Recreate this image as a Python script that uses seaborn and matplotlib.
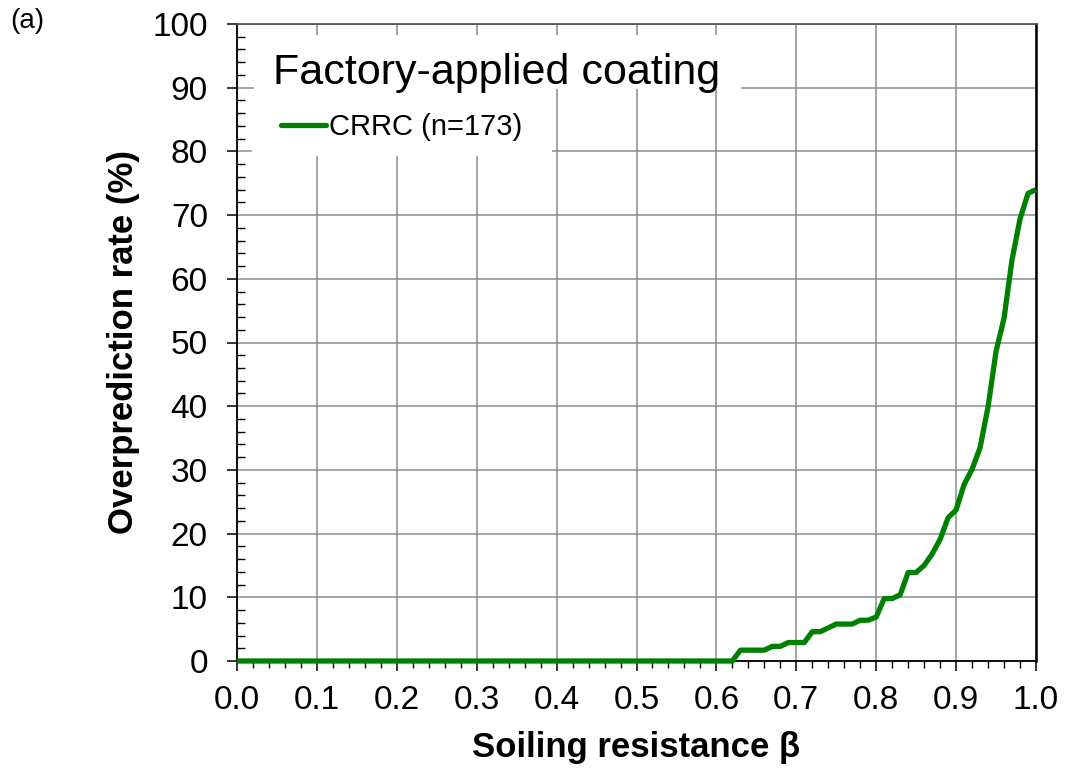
import numpy as np
import pandas as pd
import matplotlib
matplotlib.use("Agg")
import matplotlib.pyplot as plt
from matplotlib.patches import Rectangle
from matplotlib.ticker import MultipleLocator
import seaborn as sns

# Soiling-resistance thresholds and the share of CRRC specimens overpredicted (%)
beta = np.round(np.arange(0, 101) / 100, 2)
rate = [0.0] * 63 + [
    1.7, 1.7, 1.7, 1.7, 2.3, 2.3, 2.9, 2.9, 2.9, 4.6,
    4.6, 5.2, 5.8, 5.8, 5.8, 6.4, 6.4, 6.9, 9.8, 9.8,
    10.4, 13.9, 13.9, 15.0, 16.8, 19.1, 22.5, 23.7, 27.7, 30.1,
    33.5, 39.9, 48.6, 53.8, 63.0, 69.4, 73.4, 74.0,
]
series_label = "CRRC (n=173)"
panel_title = "Factory-applied coating"
x_ticks = [0.0, 0.1, 0.2, 0.3, 0.4, 0.5, 0.6, 0.7, 0.8, 0.9, 1.0]
y_ticks = [0, 10, 20, 30, 40, 50, 60, 70, 80, 90, 100]

df = pd.DataFrame({"beta": beta, "rate": rate, "series": series_label})

sns.set_theme(style="white")
plt.rcParams["font.family"] = ["Liberation Sans", "DejaVu Sans"]
plt.rcParams.update({
    "text.color": "black",
    "axes.labelcolor": "black",
    "xtick.color": "black",
    "ytick.color": "black",
})

fig = plt.figure(figsize=(10.66, 7.72), dpi=100)
ax = fig.add_axes([237 / 1066, 1 - 661 / 772, (1036 - 237) / 1066, (661 - 24) / 772])

sns.lineplot(data=df, x="beta", y="rate", hue="series", palette=["#008000"],
             linewidth=3.8, ax=ax, legend=False, clip_on=False, zorder=3,
             solid_joinstyle="round", solid_capstyle="butt")

ax.set_xlim(0, 1)
ax.set_ylim(0, 100)
ax.set_xticks(x_ticks)
ax.set_xticklabels([f"{v:.1f}" for v in x_ticks])
ax.set_yticks(y_ticks)
ax.xaxis.set_minor_locator(MultipleLocator(0.02))
ax.yaxis.set_minor_locator(MultipleLocator(2))

ax.grid(True, which="major", color="#8c8c8c", linewidth=1.1)
ax.set_axisbelow(True)

ax.tick_params(axis="both", which="major", labelsize=24, length=7, width=1.1,
               color="black", labelcolor="black", direction="out",
               bottom=True, left=True)
ax.tick_params(axis="x", which="major", pad=10)
ax.tick_params(axis="y", which="major", pad=14)
ax.tick_params(axis="x", which="minor", direction="out", length=5, width=1.0,
               color="black", bottom=True)
ax.tick_params(axis="y", which="minor", direction="in", length=6, width=1.0,
               color="black", left=True)

for side in ("left", "bottom"):
    ax.spines[side].set_color("black")
    ax.spines[side].set_linewidth(1.3)
ax.spines["top"].set_color("#555555")
ax.spines["top"].set_linewidth(1.3)
ax.spines["right"].set_color("black")
ax.spines["right"].set_linewidth(1.8)

ax.set_xlabel("Soiling resistance β", fontsize=25, fontweight="bold",
              labelpad=11, color="black")
ax.set_ylabel("Overprediction rate (%)", fontsize=25, fontweight="bold",
              labelpad=9, color="black")

# White panels behind the heading and the legend entry
ax.add_patch(Rectangle((0.021, 0.898), 0.61, 0.085, transform=ax.transAxes,
                       facecolor="white", edgecolor="none", zorder=1.5))
ax.add_patch(Rectangle((0.019, 0.793), 0.375, 0.105, transform=ax.transAxes,
                       facecolor="white", edgecolor="none", zorder=1.5))

ax.text(0.045, 0.906, panel_title, transform=ax.transAxes, fontsize=31,
        ha="left", va="baseline", zorder=4, color="black")

handle = plt.Line2D([], [], color="#008000", linewidth=3.8)
leg = ax.legend([handle], [series_label], loc="center left",
                bbox_to_anchor=(0.055, 0.838), bbox_transform=ax.transAxes,
                frameon=False, fontsize=21, handlelength=1.55, handletextpad=0.1,
                borderpad=0, borderaxespad=0)
for t in leg.get_texts():
    t.set_color("black")

fig.text(10 / 1066, 1 - 8 / 772, "(a)", fontsize=20, ha="left", va="top",
         color="black")

fig.savefig("out.png", dpi=100, facecolor="white")
